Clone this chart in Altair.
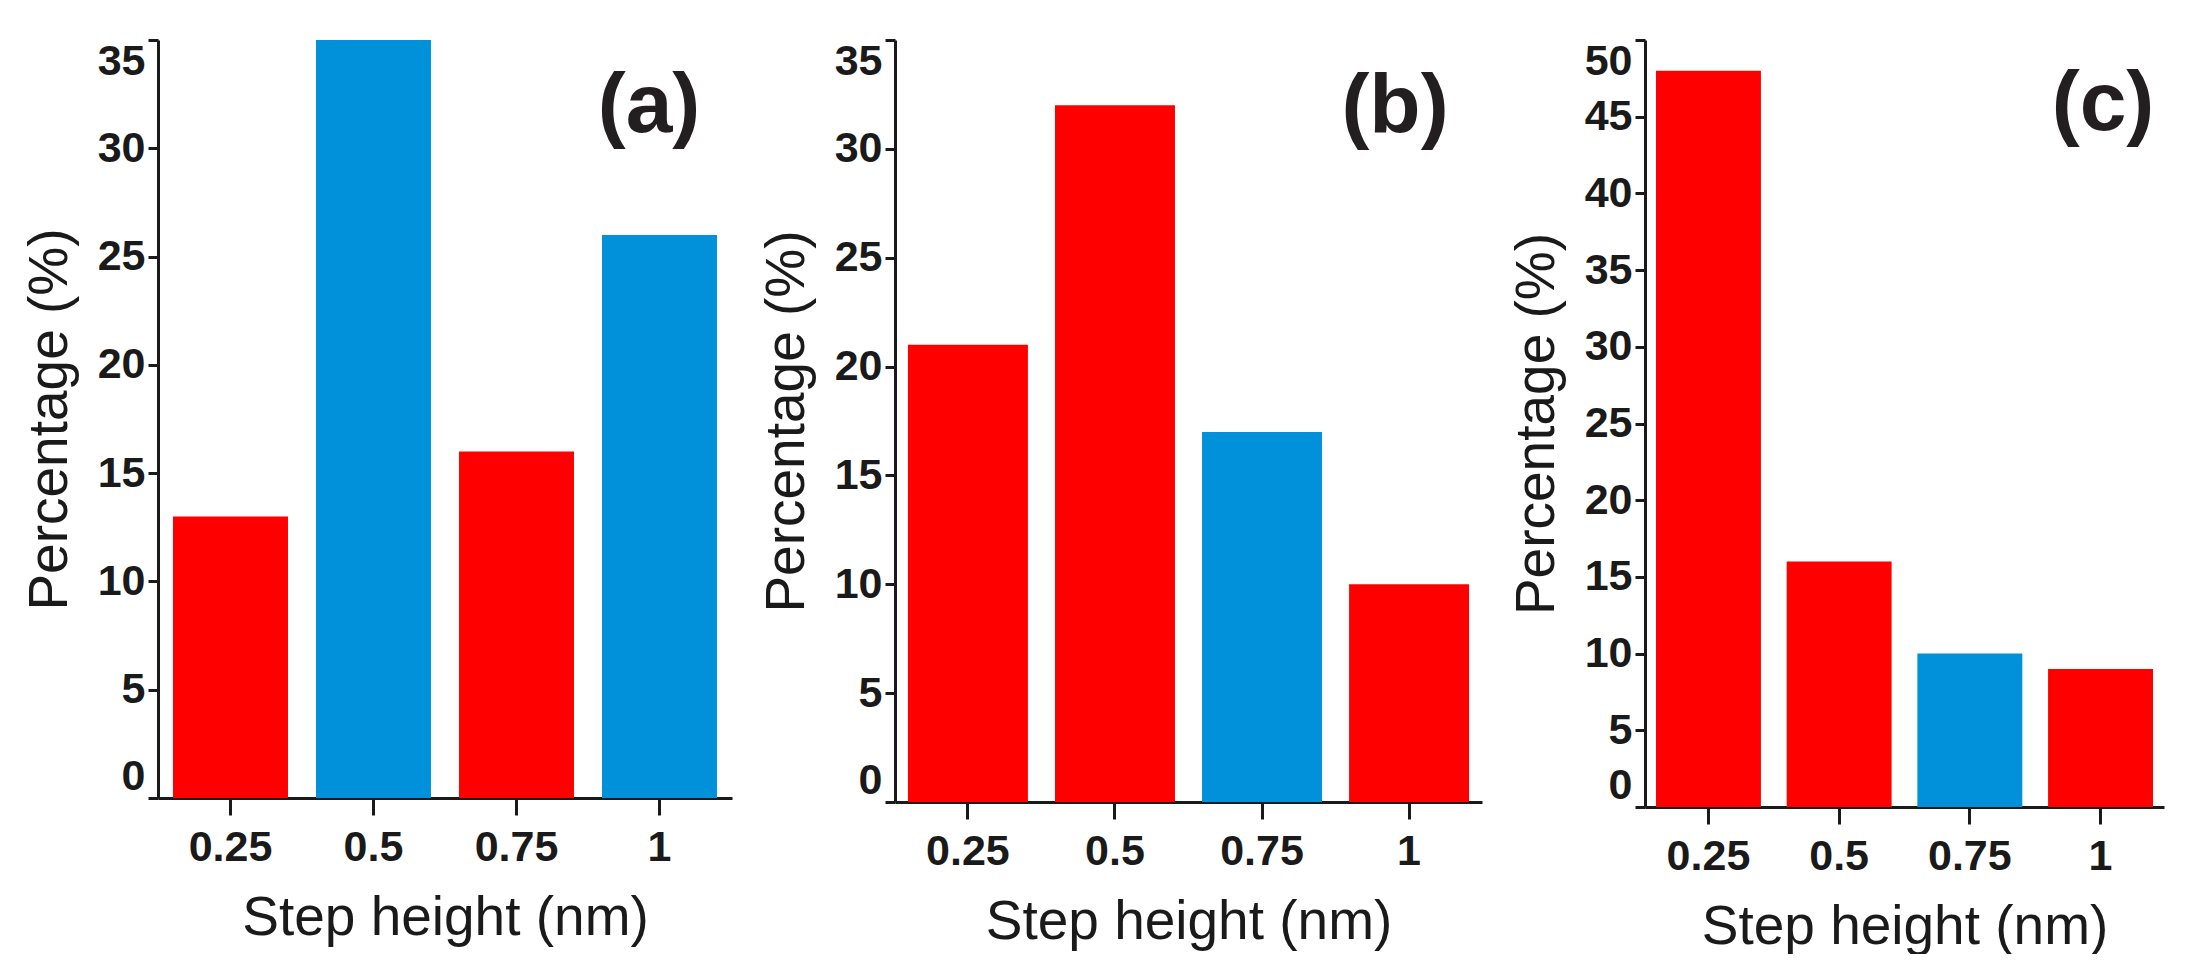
import altair as alt
import pandas as pd

# step heights (nm) shared by the three histograms
steps = ["0.25", "0.5", "0.75", "1"]

# percentages
pct_a = [13, 35, 16, 26]
pct_b = [21, 32, 17, 10]
pct_c = [48, 16, 10, 9]

# which step heights are drawn in blue in each panel
blue_a = ["0.5", "1"]
blue_b = ["0.75"]
blue_c = ["0.75"]

ticks_35 = [0, 5, 10, 15, 20, 25, 30, 35]
ticks_50 = [0, 5, 10, 15, 20, 25, 30, 35, 40, 45, 50]

RED = "#ff0000"
BLUE = "#0091da"
INK = "#1a1a1a"
FONT = "Liberation Sans"


def panel(values, blue, label, y_max, y_ticks, width, height,
          pad_inner, pad_outer, label_x, label_y):
    source = pd.DataFrame({
        "step": steps,
        "pct": values,
        "kind": ["blue" if s in blue else "red" for s in steps],
    })

    bars = alt.Chart(source).mark_bar().encode(
        x=alt.X("step:N", sort=steps,
                scale=alt.Scale(paddingInner=pad_inner, paddingOuter=pad_outer),
                axis=alt.Axis(title="Step height (nm)", labelAngle=0,
                              tickSize=17, labelPadding=11, titlePadding=22)),
        y=alt.Y("pct:Q",
                scale=alt.Scale(domain=[0, y_max], nice=False),
                axis=alt.Axis(title="Percentage (%)", values=y_ticks,
                              tickSize=10, labelPadding=3, labelFlush=True,
                              titlePadding=19)),
        color=alt.Color("kind:N",
                        scale=alt.Scale(domain=["red", "blue"], range=[RED, BLUE]),
                        legend=None),
    )

    # panel tag, e.g. "(a)", in the upper right corner
    tag = alt.Chart(pd.DataFrame({"tag": [label]})).mark_text(
        font=FONT, fontSize=84, fontWeight="bold", color="#231f20",
        baseline="middle"
    ).encode(
        text="tag:N",
        x=alt.value(label_x),
        y=alt.value(label_y),
    )

    return alt.layer(bars, tag).properties(width=width, height=height)


chart_a = panel(pct_a, blue_a, "(a)", 35, ticks_35, 574, 758, 0.196, 0.105, 491, 67)
chart_b = panel(pct_b, blue_b, "(b)", 35, ticks_35, 587, 762, 0.184, 0.088, 500, 68)
chart_c = panel(pct_c, blue_c, "(c)", 50, ticks_50, 519, 767, 0.197, 0.084, 458, 65)

chart = alt.hconcat(chart_a, chart_b, chart_c, spacing=27).properties(
    padding={"left": 14, "top": 30, "right": 5, "bottom": 0}
).configure_view(
    stroke=None
).configure_axis(
    grid=False,
    domainColor=INK,
    domainWidth=3,
    tickColor=INK,
    tickWidth=3,
    labelFont=FONT,
    labelFontSize=43,
    labelFontWeight="bold",
    labelColor=INK,
    titleFont=FONT,
    titleFontSize=55,
    titleFontWeight="normal",
    titleColor=INK,
)

chart.save("out.html", embed_options={"renderer": "svg", "actions": False})
